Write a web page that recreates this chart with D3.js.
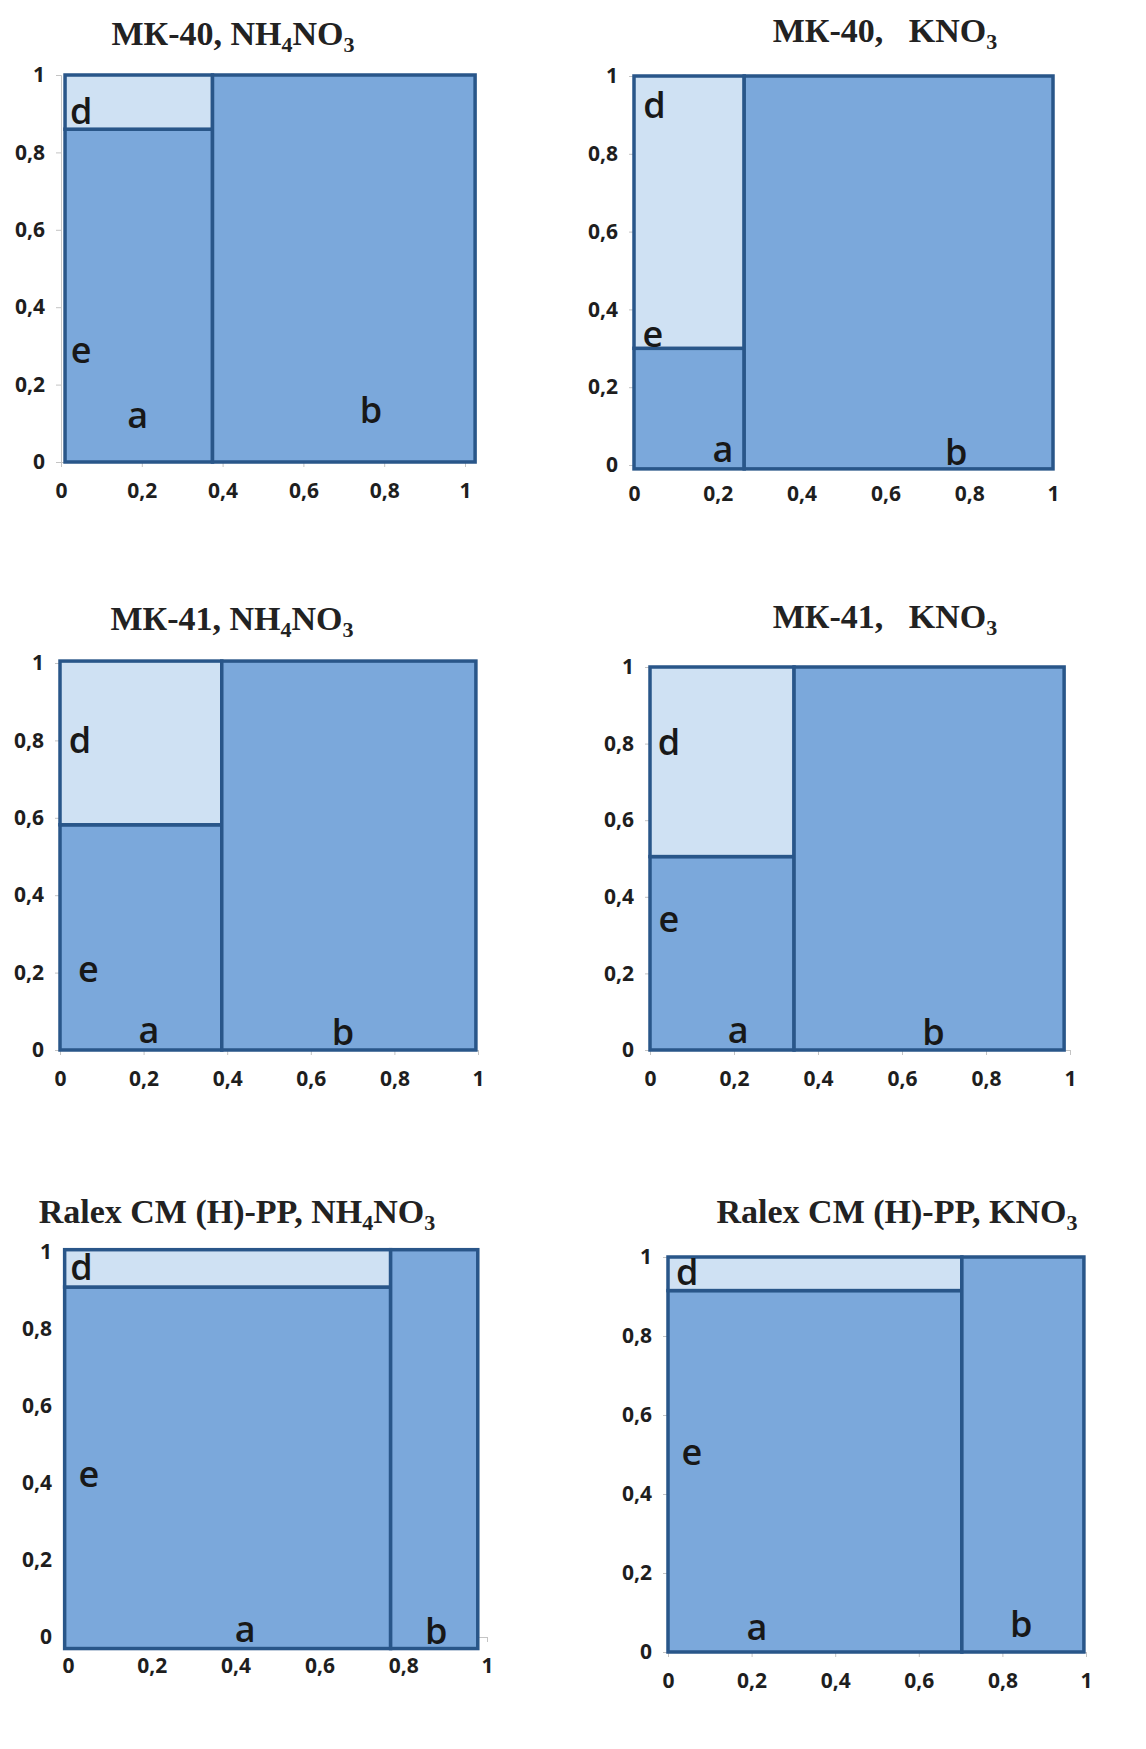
<!DOCTYPE html>
<html>
<head>
<meta charset="utf-8">
<script src="https://cdn.jsdelivr.net/npm/d3@7"></script>
<style>
  body { margin: 0; background: #fff; }
</style>
</head>
<body>
<svg id="chart" width="1146" height="1749"></svg>
<script>
// values (fractions, 0..1)
var titles = ["МК-40, NH_4NO_3", "МК-40,   KNO_3", "МК-41, NH_4NO_3", "МК-41,   KNO_3",
              "Ralex CM (H)-PP, NH_4NO_3", "Ralex CM (H)-PP, KNO_3"];
var xStart = [0.01, 0, 0, 0, -0.008, 0];
var xEnd = [1.025, 1.0, 0.995, 0.986, 0.978, 0.995];
var aShare = [0.375, 0.263, 0.387, 0.343, 0.77, 0.703];   // width of column "a"
var eShare = [0.86, 0.30, 0.582, 0.505, 0.909, 0.915];    // height of "e" inside "a"
var yTopVal = [1, 1, 1.005, 1, 1.006, 1];
var yBottomVal = [0, -0.01, 0, 0, -0.03, 0];
var tickValues = [0, 0.2, 0.4, 0.6, 0.8, 1];
var tickLabels = ["0", "0,2", "0,4", "0,6", "0,8", "1"];

// region letters, anchored in data units
var labelNames = ["d", "e", "a", "b"];
var labelX = [[0.05, 0.05, 0.19, 0.767], [0.049, 0.045, 0.212, 0.769], [0.048, 0.068, 0.213, 0.677],
              [0.045, 0.045, 0.21, 0.675], [0.032, 0.05, 0.423, 0.879], [0.046, 0.057, 0.213, 0.845]];
var labelY = [[0.873, 0.256, 0.089, 0.10], [0.891, 0.304, 0.008, 0], [0.767, 0.177, 0.017, 0.013],
              [0.771, 0.309, 0.017, 0.013], [0.926, 0.39, -0.013, -0.017], [0.93, 0.473, 0.03, 0.038]];

// layout of each small chart on the page
var boxes = [
  {x0: 61, x1: 465, yTop: 75, yBot: 462, tx: 233, ty: 45},
  {x0: 634, x1: 1053, yTop: 76, yBot: 465, tx: 885, ty: 42},
  {x0: 60, x1: 478, yTop: 663, yBot: 1050, tx: 232, ty: 630},
  {x0: 650, x1: 1070, yTop: 667, yBot: 1050, tx: 885, ty: 628},
  {x0: 68, x1: 487, yTop: 1252, yBot: 1637, tx: 237, ty: 1223},
  {x0: 668, x1: 1086, yTop: 1257, yBot: 1652, tx: 897, ty: 1223}
];

var fillMain = "#7ba8db";
var fillLight = "#cfe1f3";
var strokeDark = "#295689";

var svg = d3.select("#chart");

boxes.forEach(function(box, i){
  var x = d3.scaleLinear().domain([0, 1]).range([box.x0, box.x1]);
  var y = d3.scaleLinear().domain([0, 1]).range([box.yBot, box.yTop]);
  var g = svg.append("g");

  // axes (mostly hidden under the rectangles)
  var yAxis = d3.axisLeft(y).tickValues(tickValues)
    .tickFormat(function(d, k){ return tickLabels[k]; })
    .tickSize(5).tickPadding(11);
  var xAxis = d3.axisBottom(x).tickValues(tickValues)
    .tickFormat(function(d, k){ return tickLabels[k]; })
    .tickSize(5).tickPadding(16);

  g.append("g").attr("transform", "translate(" + box.x0 + ",0)").call(yAxis);
  g.append("g").attr("transform", "translate(0," + box.yBot + ")").call(xAxis);
  g.selectAll(".domain, .tick line").attr("stroke", "#c4c4c4");
  g.selectAll(".tick text")
    .attr("fill", "#1e1e1e")
    .style("font-family", "'Open Sans', sans-serif")
    .style("font-weight", "bold")
    .style("font-size", "21px");

  // the three areas: e (left bottom), d (left top), b (right)
  var rects = [
    {x0: xStart[i], x1: aShare[i], y0: yBottomVal[i], y1: eShare[i], fill: fillMain},
    {x0: xStart[i], x1: aShare[i], y0: eShare[i], y1: yTopVal[i], fill: fillLight},
    {x0: aShare[i], x1: xEnd[i], y0: yBottomVal[i], y1: yTopVal[i], fill: fillMain}
  ];
  g.selectAll("rect.area")
    .data(rects)
    .enter()
    .append("rect")
    .attr("class", "area")
    .attr("x", function(d){ return x(d.x0); })
    .attr("y", function(d){ return y(d.y1); })
    .attr("width", function(d){ return x(d.x1) - x(d.x0); })
    .attr("height", function(d){ return y(d.y0) - y(d.y1); })
    .attr("fill", function(d){ return d.fill; })
    .attr("stroke", strokeDark)
    .attr("stroke-width", 3.5);

  // letters
  g.selectAll("text.lbl")
    .data(labelNames)
    .enter()
    .append("text")
    .attr("class", "lbl")
    .attr("x", function(d, k){ return x(labelX[i][k]); })
    .attr("y", function(d, k){ return y(labelY[i][k]); })
    .attr("text-anchor", "middle")
    .attr("fill", "#181818")
    .style("font-family", "'Open Sans', sans-serif")
    .style("font-weight", "600")
    .style("font-size", "36px")
    .text(function(d){ return d; });

  // title with subscripts
  var parts = titles[i].split(/_(\d)/);
  var t = g.append("text")
    .attr("x", box.tx)
    .attr("y", box.ty)
    .attr("text-anchor", "middle")
    .attr("fill", "#222")
    .style("font-family", "'Liberation Serif', 'Times New Roman', serif")
    .style("font-weight", "bold")
    .style("font-size", "34px")
    .style("white-space", "pre");
  parts.forEach(function(p, k){
    if (p === "") return;
    var sub = k % 2 === 1;
    t.append("tspan")
      .attr("dy", sub ? 7 : (k > 0 ? -7 : 0))
      .style("font-size", sub ? "22px" : "34px")
      .text(p);
  });
});
</script>
</body>
</html>
